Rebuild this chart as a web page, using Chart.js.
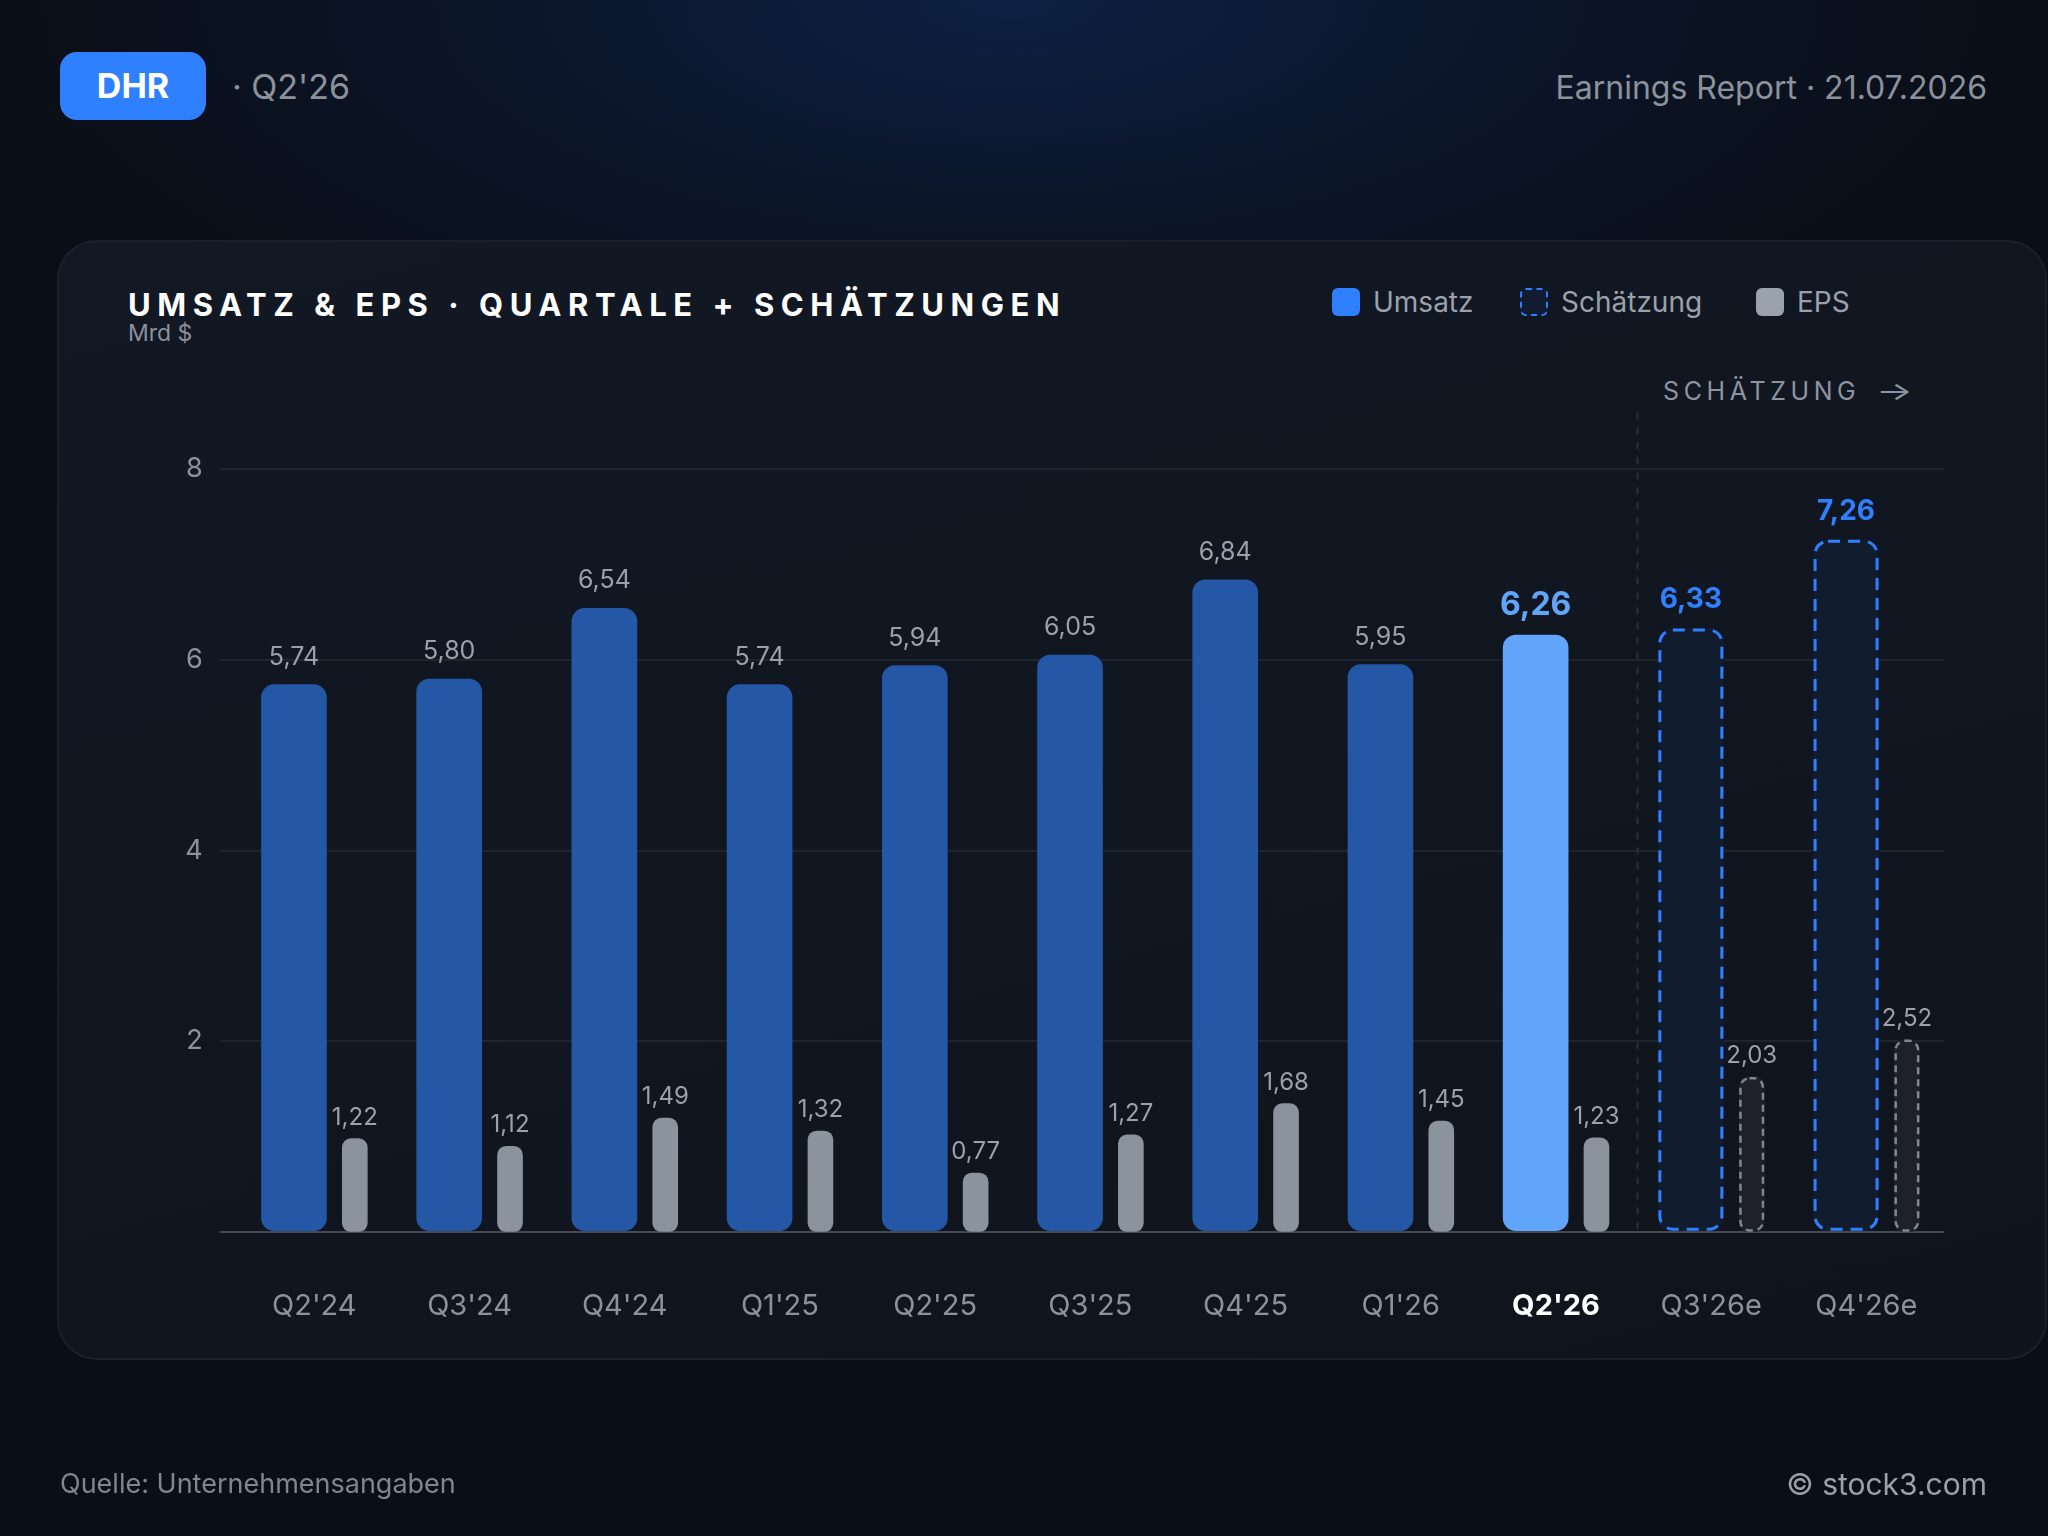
<!DOCTYPE html>
<html lang="de">
<head>
<meta charset="utf-8">
<title>DHR · Umsatz & EPS</title>
<script src="https://cdn.jsdelivr.net/npm/chart.js@4.4.1/dist/chart.umd.min.js"></script>
<style>
  html, body { margin: 0; padding: 0; }
  body {
    width: 2048px; height: 1536px; overflow: hidden; position: relative;
    font-family: Inter, "Noto Sans", sans-serif;
    background:
      radial-gradient(ellipse 1050px 430px at 1010px 0px, #0d2044 0%, rgba(13,32,68,0.45) 45%, rgba(10,14,22,0) 100%),
      #0a0e16;
  }
  .t { position: absolute; line-height: 1; white-space: nowrap; }
  .badge {
    position: absolute; left: 60px; top: 52px; width: 146px; height: 68px;
    border-radius: 17px; background: #2f80ff; color: #fff;
    font-weight: 700; font-size: 34px; line-height: 68px; text-align: center;
  }
  .card {
    position: absolute; left: 57px; top: 240px; width: 1986px; height: 1116px;
    border: 2px solid #1b212b; border-radius: 40px;
    background: linear-gradient(165deg, #121824 0%, #0f141c 100%);
  }
  .sw { position: absolute; top: 288px; width: 28px; height: 28px; border-radius: 6px; box-sizing: border-box; }
  .arrow { display: inline-block; margin-left: 16px; letter-spacing: 0; transform: scaleX(1.55); transform-origin: left center; }
  canvas { position: absolute; left: 0; top: 0; }
</style>
</head>
<body>
<div class="badge">DHR</div>
<div class="t" style="left:232px; top:70px; font-size:34px; color:#8b929c;">· Q2'26</div>
<div class="t" style="right:61px; top:72px; font-size:32px; color:#8b929c;">Earnings Report · 21.07.2026</div>

<div class="card"></div>
<div class="t" style="left:128px; top:289px; font-size:31px; font-weight:700; color:#fff; letter-spacing:6.55px;">UMSATZ &amp; EPS · QUARTALE + SCHÄTZUNGEN</div>
<div class="t" style="left:128px; top:322px; font-size:23px; color:#8a919c;">Mrd $</div>

<div class="sw" style="left:1332px; background:#2f80ff;"></div>
<div class="t" style="left:1373px; top:288px; font-size:28px; color:#9aa1ac;">Umsatz</div>
<div class="sw" style="left:1520px; background:#111c30; border:2.5px dashed #2f80ff;"></div>
<div class="t" style="left:1561px; top:288px; font-size:28px; color:#9aa1ac;">Schätzung</div>
<div class="sw" style="left:1756px; background:#9aa2ad;"></div>
<div class="t" style="left:1797px; top:288px; font-size:28px; color:#9aa1ac;">EPS</div>

<div class="t" style="left:1663px; top:379px; font-size:25px; color:#8d949f; letter-spacing:4.6px;">SCHÄTZUNG<span class="arrow">→</span></div>

<canvas id="chart" width="2048" height="1536"></canvas>

<div class="t" style="left:60px; top:1470px; font-size:27px; color:#7f8692;">Quelle: Unternehmensangaben</div>
<div class="t" style="right:61px; top:1469px; font-size:30px; color:#9aa1ab;">© stock3.com</div>

<script>
const quartale = ["Q2'24", "Q3'24", "Q4'24", "Q1'25", "Q2'25", "Q3'25", "Q4'25", "Q1'26", "Q2'26", "Q3'26e", "Q4'26e"];
const umsatz = [5.74, 5.80, 6.54, 5.74, 5.94, 6.05, 6.84, 5.95, 6.26, 6.33, 7.26];
const eps = [1.22, 1.12, 1.49, 1.32, 0.77, 1.27, 1.68, 1.45, 1.23, 2.03, 2.52];
const schaetzung = [false, false, false, false, false, false, false, false, false, true, true];
const aktuell = 8;

// Umsatz-Achse 0..8, EPS auf eigener (versteckter) Achse 0..10
const umsatzMax = 8;
const epsMax = 10;

// Verschiebung der Balken innerhalb einer Kategorie (Anteil der Kategoriebreite)
const umsatzShift = -0.131;
const epsShift = 0.261;

const fmt = v => v.toFixed(2).replace(".", ",");

const umsatzFarbe = quartale.map((q, i) => schaetzung[i] ? "#111c2e" : (i === aktuell ? "#60a5fa" : "#2458a6"));
const epsFarbe = quartale.map((q, i) => schaetzung[i] ? "#1e2129" : "#8b939e");

function dashedBox(ctx, bar, radius, color, width, dash) {
  const p = bar.getProps(["x", "y", "base", "width"], true);
  const h = p.base - p.y;
  ctx.save();
  ctx.strokeStyle = color;
  ctx.lineWidth = width;
  ctx.setLineDash(dash);
  ctx.beginPath();
  ctx.roundRect(p.x - p.width / 2 + width / 2, p.y + width / 2, p.width - width, h - width, radius);
  ctx.stroke();
  ctx.restore();
}

const overlay = {
  id: "overlay",
  afterDatasetsDraw(chart) {
    const ctx = chart.ctx;
    const xs = chart.scales.x;
    const ys = chart.scales.y;

    // Trennlinie Ist / Schätzung
    const sx = Math.round(xs.getPixelForValue(aktuell + 0.5)) + 3.5;
    ctx.save();
    ctx.strokeStyle = "#2a2f38";
    ctx.lineWidth = 2;
    ctx.setLineDash([7, 8]);
    ctx.beginPath();
    ctx.moveTo(sx, ys.top - 57);
    ctx.lineTo(sx, ys.bottom);
    ctx.stroke();
    ctx.restore();

    const um = chart.getDatasetMeta(0);
    const ep = chart.getDatasetMeta(1);

    um.data.forEach((bar, i) => {
      if (schaetzung[i]) dashedBox(ctx, bar, 13, "#2f80ff", 3, [12, 8]);
    });
    ep.data.forEach((bar, i) => {
      if (schaetzung[i]) dashedBox(ctx, bar, 9, "#7f8793", 2.5, [7, 5]);
    });

    ctx.save();
    ctx.textAlign = "center";
    ctx.textBaseline = "alphabetic";
    um.data.forEach((bar, i) => {
      if (schaetzung[i]) {
        ctx.font = "700 28px Inter";
        ctx.fillStyle = "#2f80ff";
      } else if (i === aktuell) {
        ctx.font = "700 32px Inter";
        ctx.fillStyle = "#60a5fa";
      } else {
        ctx.font = "400 25px Inter";
        ctx.fillStyle = "#9aa1ac";
      }
      ctx.fillText(fmt(umsatz[i]), bar.x, bar.y - 20);
    });
    ctx.font = "400 24px Inter";
    ctx.fillStyle = "#9aa1ac";
    ep.data.forEach((bar, i) => {
      ctx.fillText(fmt(eps[i]), bar.x, bar.y - 14);
    });
    ctx.restore();
  }
};

const chart = new Chart(document.getElementById("chart"), {
  type: "bar",
  data: {
    labels: quartale,
    datasets: [
      {
        label: "Umsatz",
        data: umsatz.map((v, i) => ({ x: i, y: v })),
        xAxisID: "xu",
        yAxisID: "y",
        grouped: false,
        backgroundColor: umsatzFarbe,
        barThickness: 65,
        borderRadius: 13,
        borderSkipped: false
      },
      {
        label: "EPS",
        data: eps.map((v, i) => ({ x: i, y: v })),
        xAxisID: "xe",
        yAxisID: "y2",
        grouped: false,
        backgroundColor: epsFarbe,
        barThickness: 25,
        borderRadius: 9,
        borderSkipped: false
      }
    ]
  },
  options: {
    responsive: false,
    animation: false,
    devicePixelRatio: 1,
    layout: { padding: { left: 150, right: 104, top: 469.3, bottom: 204.3 } },
    plugins: { legend: { display: false }, tooltip: { enabled: false } },
    scales: {
      x: {
        type: "category",
        axis: "x",
        position: "bottom",
        offset: true,
        grid: { display: false, drawTicks: false, tickLength: 0 },
        border: { display: false },
        ticks: {
          padding: 57,
          font: c => ({ family: "Inter", size: 29, weight: c.index === aktuell ? "700" : "400" }),
          color: c => c.index === aktuell ? "#ffffff" : "#8b929e"
        },
        afterFit: a => { a.height = 100; }
      },
      xu: {
        type: "linear", axis: "x", display: false, offset: false,
        min: -0.5 - umsatzShift, max: quartale.length - 0.5 - umsatzShift
      },
      xe: {
        type: "linear", axis: "x", display: false, offset: false,
        min: -0.5 - epsShift, max: quartale.length - 0.5 - epsShift
      },
      y: {
        type: "linear",
        position: "left",
        min: 0,
        max: umsatzMax,
        border: { display: false },
        grid: {
          color: c => c.tick.value === 0 ? "#444a54" : "#1f252e",
          lineWidth: 2,
          drawTicks: true,
          tickLength: 17
        },
        ticks: {
          stepSize: 2,
          padding: 17,
          font: { family: "Inter", size: 27 },
          color: "#8b929e",
          callback: v => v === 0 ? "" : v
        },
        afterFit: a => { a.width = 86.7; }
      },
      y2: {
        type: "linear", axis: "y", display: false,
        min: 0, max: epsMax
      }
    }
  },
  plugins: [overlay]
});
</script>
</body>
</html>
